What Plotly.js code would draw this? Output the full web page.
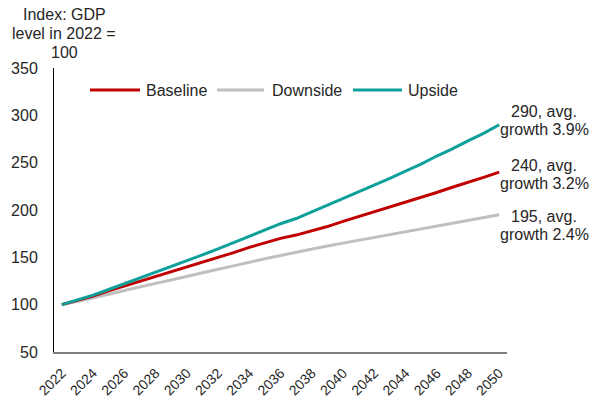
<!DOCTYPE html>
<html>
<head>
<meta charset="utf-8">
<script src="https://cdn.plot.ly/plotly-3.0.1.min.js"></script>
<style>
  html, body { margin: 0; padding: 0; background: #fff; }
  #chart { width: 598px; height: 400px; }
</style>
</head>
<body>
<div id="chart"></div>
<script>
// GDP index scenarios, 2022 = 100
const years = [2022, 2023, 2024, 2025, 2026, 2027, 2028, 2029, 2030, 2031,
               2032, 2033, 2034, 2035, 2036, 2037, 2038, 2039, 2040, 2041,
               2042, 2043, 2044, 2045, 2046, 2047, 2048, 2049, 2050];

const baseline = [100, 104.5, 109, 114.5, 119.5, 124.5, 130, 135, 140, 145,
                  150, 155, 160.5, 165.5, 170, 173.5, 178, 182.5, 188, 193,
                  198, 203, 208, 213, 218.5, 224, 229, 234.5, 240];

const downside = [100, 103.5, 107, 111, 115, 119, 122.5, 126, 130, 133.5,
                  137.5, 141, 145, 148.5, 152, 155.5, 158.5, 162, 165, 168,
                  171, 174, 177, 180, 183, 186, 189, 192, 195];

const upside = [100, 105, 110, 116, 122, 128, 134, 140, 146, 152.5,
                159, 165.5, 172, 178.5, 185.5, 191, 198, 205, 212, 219,
                226, 233.5, 241, 248.5, 257, 264.5, 273, 281, 290];

const seriesNames = ['Baseline', 'Downside', 'Upside'];
const avgGrowth = { Baseline: '3.2%', Downside: '2.4%', Upside: '3.9%' };
const tickYears = [2022, 2024, 2026, 2028, 2030, 2032, 2034, 2036, 2038, 2040,
                   2042, 2044, 2046, 2048, 2050];
const tickLabels = tickYears.map(String);
const yTitleLines = ['Index: GDP', 'level in 2022 =', '100'];

const colors = { Baseline: '#C00000', Downside: '#BFBFBF', Upside: '#0FA09C' };
const values = { Baseline: baseline, Downside: downside, Upside: upside };
const FONT = 'Liberation Sans, Arial, sans-serif';
const TXT = '#262626';

// plot area in pixels
const W = 598, H = 400, L = 54, R = 91, T = 68, B = 48;
const px2x = px => (px - L) / (W - L - R);
const px2y = py => (H - B - py) / (H - T - B);

// grey first, then red, then teal on top
const drawOrder = ['Downside', 'Baseline', 'Upside'];
const traces = drawOrder.map(name => ({
  type: 'scatter',
  mode: 'lines',
  name: name,
  x: years,
  y: values[name],
  line: { color: colors[name], width: 3 },
  showlegend: false,
  hoverinfo: 'skip'
}));

const annotations = [];
const shapes = [];

// axis caption, one annotation per line for tight spacing
const titleRows = [15, 33, 52];
yTitleLines.forEach((t, i) => {
  annotations.push({
    xref: 'paper', yref: 'paper', x: px2x(64), y: px2y(titleRows[i]),
    text: t, showarrow: false, xanchor: 'center', yanchor: 'middle',
    font: { family: FONT, size: 16, color: TXT }
  });
});

// hand-placed legend with long line samples
const legendRow = 90;
const legendPos = {
  Baseline: { x0: 90, x1: 140, tx: 144 },
  Downside: { x0: 217, x1: 264, tx: 270 },
  Upside:   { x0: 353, x1: 402, tx: 406 }
};
seriesNames.forEach(name => {
  const p = legendPos[name];
  shapes.push({
    type: 'line', xref: 'paper', yref: 'paper',
    x0: px2x(p.x0), x1: px2x(p.x1), y0: px2y(legendRow), y1: px2y(legendRow),
    line: { color: colors[name], width: 3 }
  });
  annotations.push({
    xref: 'paper', yref: 'paper', x: px2x(p.tx), y: px2y(legendRow),
    text: name, showarrow: false, xanchor: 'left', yanchor: 'middle',
    font: { family: FONT, size: 16, color: TXT }
  });
});

// end-of-line labels, built from the last value of each series
const endShift = {
  Upside:   [13, -5],
  Baseline: [7, -11],
  Downside: [-2, -20]
};
seriesNames.forEach(name => {
  const arr = values[name];
  const last = arr[arr.length - 1];
  const lines = [last + ', avg.', 'growth ' + avgGrowth[name]];
  lines.forEach((t, i) => {
    annotations.push({
      xref: 'x', yref: 'y', x: years[years.length - 1], y: last,
      xshift: 45, yshift: endShift[name][i],
      text: t, showarrow: false, xanchor: 'center', yanchor: 'middle',
      font: { family: FONT, size: 16, color: TXT }
    });
  });
});

const layout = {
  width: W, height: H,
  margin: { l: L, r: R, t: T, b: B, pad: 0 },
  paper_bgcolor: '#ffffff',
  plot_bgcolor: '#ffffff',
  showlegend: false,
  font: { family: FONT, size: 16, color: TXT },
  xaxis: {
    range: [2021.5, 2050.5],
    tickmode: 'array',
    tickvals: tickYears,
    ticktext: tickLabels,
    tickangle: -45,
    tickfont: { family: FONT, size: 14, color: TXT },
    ticks: '',
    showgrid: false,
    zeroline: false,
    showline: true,
    linecolor: '#7F7F7F',
    linewidth: 1.5,
    ticklabelstandoff: 6,
    fixedrange: true
  },
  yaxis: {
    range: [50, 350],
    tickmode: 'array',
    tickvals: [50, 100, 150, 200, 250, 300, 350],
    ticks: '',
    tickfont: { family: FONT, size: 16, color: TXT },
    showgrid: false,
    zeroline: false,
    showline: true,
    linecolor: '#000000',
    linewidth: 1,
    ticklabelstandoff: 12,
    fixedrange: true
  },
  shapes: shapes,
  annotations: annotations
};

Plotly.newPlot('chart', traces, layout, { displayModeBar: false, staticPlot: true });
</script>
</body>
</html>
